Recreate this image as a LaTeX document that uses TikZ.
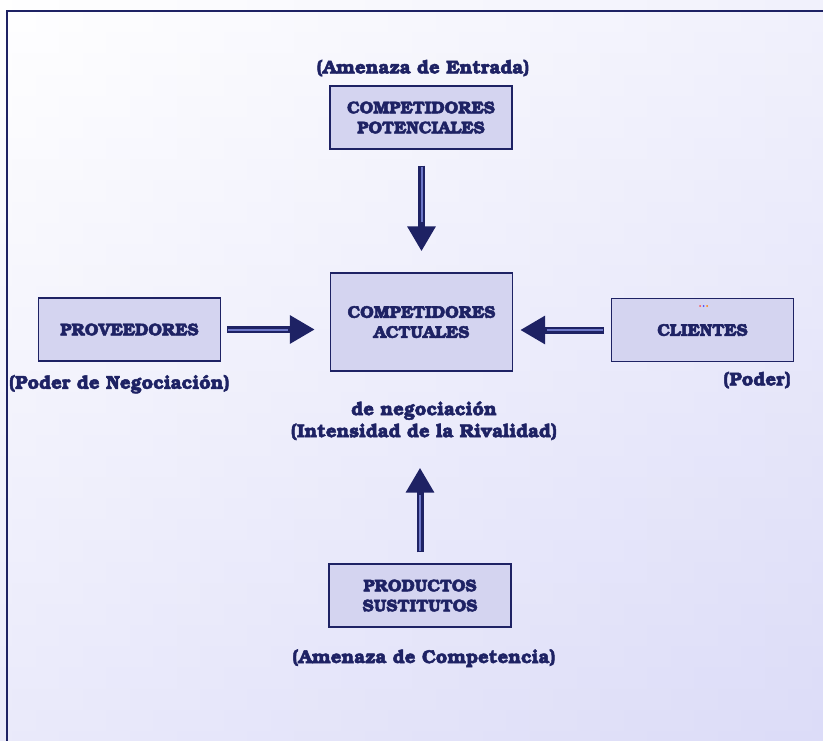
\documentclass[tikz,border=0pt]{standalone}
\usepackage[T1]{fontenc}
\usepackage{bookman}
\usetikzlibrary{arrows.meta}
\definecolor{navy}{RGB}{30,34,100}
\definecolor{midblue}{RGB}{110,120,200}
\definecolor{boxfill}{RGB}{212,212,240}
\definecolor{bglav}{RGB}{220,220,248}
\newcommand{\heavyon}{\special{pdf:literal direct 2 Tr 0.45 w}}
\newcommand{\heavyoff}{\special{pdf:literal direct 0 Tr}}
\tikzset{
  x=1pt, y=-1pt,
  heavy/.style={execute at begin node=\heavyon, execute at end node=\heavyoff},
  box/.style={draw=navy, line width=1.4pt, fill=boxfill, minimum width=182pt, minimum height=63pt,
    align=center, font=\bfseries\fontsize{17}{20}\selectfont, text=navy, inner sep=0pt, heavy},
  lbl/.style={align=center, font=\bfseries\fontsize{18.7}{22}\selectfont, text=navy, inner sep=0pt, heavy},
  shaft/.style={draw=navy, line width=7pt, -{Triangle[width=27pt,length=25pt]}},
  core/.style={draw=midblue, line width=2pt},
}
\begin{document}
\begin{tikzpicture}
\useasboundingbox (0,0) rectangle (823,741);
\shade[left color=white, right color=bglav] (0,0) rectangle (823,741);
\shade[top color=white, bottom color=bglav, opacity=0.6] (0,0) rectangle (823,741);
\draw[navy, line width=2.5pt] (7,741) -- (7,11) -- (823,11);

\node[box] (pot) at (421,117.5) {COMPETIDORES\\POTENCIALES};
\node[box, minimum height=98pt] (act) at (421.5,322) {COMPETIDORES\\ACTUALES};
\node[box] (prov) at (129.5,329.5) {PROVEEDORES};
\node[box] (cli) at (702.5,330) {CLIENTES};
\node[box] (sus) at (420,595.5) {PRODUCTOS\\SUSTITUTOS};

\node[lbl] (lent) at (423,68) {(Amenaza de Entrada)};
\node[lbl, anchor=west] (lneg) at (9,384) {(Poder de Negociaci\'on)};
\node[lbl, anchor=east] (lpod) at (791,380) {(Poder)};
\node[lbl] (lriv) at (424,421) {de negociaci\'on\\(Intensidad de la Rivalidad)};
\node[lbl] (lcom) at (424,658) {(Amenaza de Competencia)};

\fill[red!70] (700,306) circle (1pt);
\fill[blue!70] (703.5,306) circle (1pt);
\fill[orange] (707,306) circle (1pt);

% arrows
\draw[shaft, shorten <=16pt, shorten >=21pt] (pot.south -| act.north) -- (act.north);
\draw[core, shorten <=17pt, shorten >=50pt] (pot.south -| act.north) -- (act.north);

\draw[shaft, shorten <=6pt, shorten >=15pt] (prov.east) -- (act.west |- prov.east);
\draw[core, shorten <=7pt, shorten >=42pt] (prov.east) -- (act.west |- prov.east);

\draw[shaft, shorten <=7pt, shorten >=7pt] (cli.west) -- (act.east |- cli.west);
\draw[core, shorten <=8pt, shorten >=34pt] (cli.west) -- (act.east |- cli.west);

\draw[shaft, shorten <=11pt, shorten >=96pt] (sus.north) -- (sus.north |- act.south);
\draw[core, shorten <=12pt, shorten >=123pt] (sus.north) -- (sus.north |- act.south);
\end{tikzpicture}
\end{document}
